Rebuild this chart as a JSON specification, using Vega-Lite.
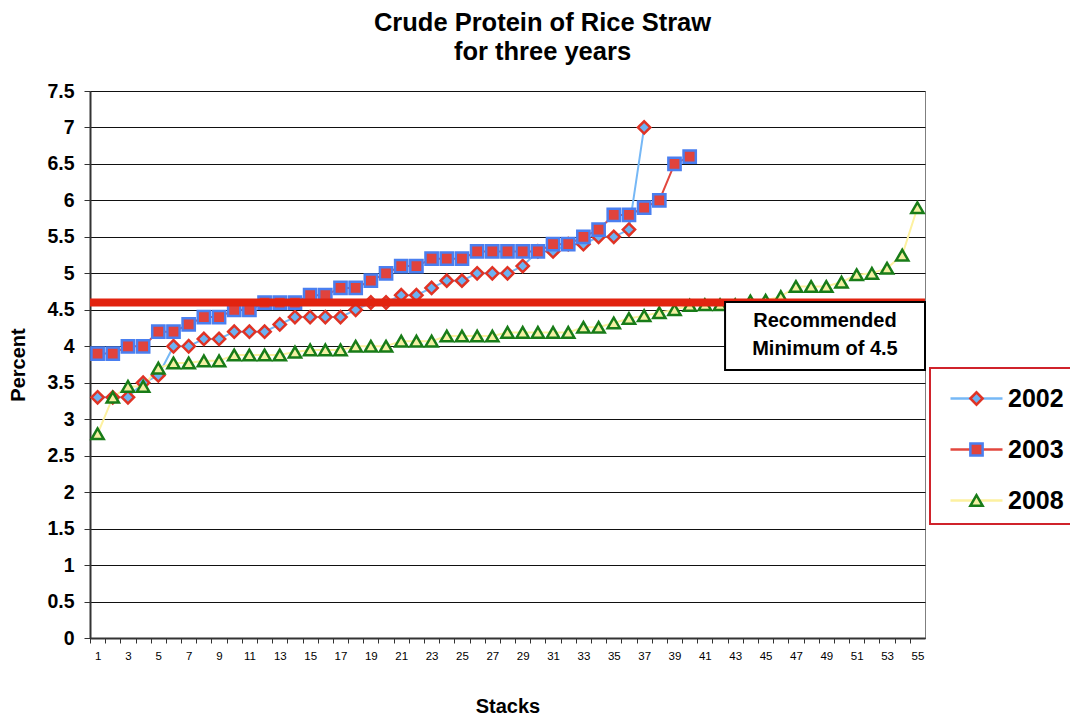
{
  "$schema": "https://vega.github.io/schema/vega-lite/v6.json",
  "width": 835,
  "height": 547,
  "autosize": {"type": "none"},
  "padding": {"left": 90, "top": 91, "right": 145, "bottom": 81},
  "background": "white",
  "config": {
    "font": "Liberation Sans",
    "view": {"stroke": "#7f7f7f", "strokeWidth": 1},
    "legend": {"strokeWidth": 2}
  },
  "title": {
    "text": ["Crude Protein of Rice Straw", "for three years"],
    "font": "Liberation Sans",
    "fontSize": 25.5,
    "fontWeight": "bold",
    "color": "#000",
    "lineHeight": 29,
    "anchor": "middle",
    "dx": 35,
    "offset": 16
  },
  "datasets": {
    "series": [
      {"s": 1, "year": "2002", "v": 3.3}, {"s": 2, "year": "2002", "v": 3.3}, {"s": 3, "year": "2002", "v": 3.3}, {"s": 4, "year": "2002", "v": 3.5}, {"s": 5, "year": "2002", "v": 3.6},
      {"s": 6, "year": "2002", "v": 4.0}, {"s": 7, "year": "2002", "v": 4.0}, {"s": 8, "year": "2002", "v": 4.1}, {"s": 9, "year": "2002", "v": 4.1}, {"s": 10, "year": "2002", "v": 4.2},
      {"s": 11, "year": "2002", "v": 4.2}, {"s": 12, "year": "2002", "v": 4.2}, {"s": 13, "year": "2002", "v": 4.3}, {"s": 14, "year": "2002", "v": 4.4}, {"s": 15, "year": "2002", "v": 4.4},
      {"s": 16, "year": "2002", "v": 4.4}, {"s": 17, "year": "2002", "v": 4.4}, {"s": 18, "year": "2002", "v": 4.5}, {"s": 19, "year": "2002", "v": 4.6}, {"s": 20, "year": "2002", "v": 4.6},
      {"s": 21, "year": "2002", "v": 4.7}, {"s": 22, "year": "2002", "v": 4.7}, {"s": 23, "year": "2002", "v": 4.8}, {"s": 24, "year": "2002", "v": 4.9}, {"s": 25, "year": "2002", "v": 4.9},
      {"s": 26, "year": "2002", "v": 5.0}, {"s": 27, "year": "2002", "v": 5.0}, {"s": 28, "year": "2002", "v": 5.0}, {"s": 29, "year": "2002", "v": 5.1}, {"s": 30, "year": "2002", "v": 5.3},
      {"s": 31, "year": "2002", "v": 5.3}, {"s": 32, "year": "2002", "v": 5.4}, {"s": 33, "year": "2002", "v": 5.4}, {"s": 34, "year": "2002", "v": 5.5}, {"s": 35, "year": "2002", "v": 5.5},
      {"s": 36, "year": "2002", "v": 5.6}, {"s": 37, "year": "2002", "v": 7.0},
      {"s": 1, "year": "2003", "v": 3.9}, {"s": 2, "year": "2003", "v": 3.9}, {"s": 3, "year": "2003", "v": 4.0}, {"s": 4, "year": "2003", "v": 4.0}, {"s": 5, "year": "2003", "v": 4.2},
      {"s": 6, "year": "2003", "v": 4.2}, {"s": 7, "year": "2003", "v": 4.3}, {"s": 8, "year": "2003", "v": 4.4}, {"s": 9, "year": "2003", "v": 4.4}, {"s": 10, "year": "2003", "v": 4.5},
      {"s": 11, "year": "2003", "v": 4.5}, {"s": 12, "year": "2003", "v": 4.6}, {"s": 13, "year": "2003", "v": 4.6}, {"s": 14, "year": "2003", "v": 4.6}, {"s": 15, "year": "2003", "v": 4.7},
      {"s": 16, "year": "2003", "v": 4.7}, {"s": 17, "year": "2003", "v": 4.8}, {"s": 18, "year": "2003", "v": 4.8}, {"s": 19, "year": "2003", "v": 4.9}, {"s": 20, "year": "2003", "v": 5.0},
      {"s": 21, "year": "2003", "v": 5.1}, {"s": 22, "year": "2003", "v": 5.1}, {"s": 23, "year": "2003", "v": 5.2}, {"s": 24, "year": "2003", "v": 5.2}, {"s": 25, "year": "2003", "v": 5.2},
      {"s": 26, "year": "2003", "v": 5.3}, {"s": 27, "year": "2003", "v": 5.3}, {"s": 28, "year": "2003", "v": 5.3}, {"s": 29, "year": "2003", "v": 5.3}, {"s": 30, "year": "2003", "v": 5.3},
      {"s": 31, "year": "2003", "v": 5.4}, {"s": 32, "year": "2003", "v": 5.4}, {"s": 33, "year": "2003", "v": 5.5}, {"s": 34, "year": "2003", "v": 5.6}, {"s": 35, "year": "2003", "v": 5.8},
      {"s": 36, "year": "2003", "v": 5.8}, {"s": 37, "year": "2003", "v": 5.9}, {"s": 38, "year": "2003", "v": 6.0}, {"s": 39, "year": "2003", "v": 6.5}, {"s": 40, "year": "2003", "v": 6.6},
      {"s": 1, "year": "2008", "v": 2.8}, {"s": 2, "year": "2008", "v": 3.3}, {"s": 3, "year": "2008", "v": 3.45}, {"s": 4, "year": "2008", "v": 3.45}, {"s": 5, "year": "2008", "v": 3.7},
      {"s": 6, "year": "2008", "v": 3.77}, {"s": 7, "year": "2008", "v": 3.77}, {"s": 8, "year": "2008", "v": 3.8}, {"s": 9, "year": "2008", "v": 3.8}, {"s": 10, "year": "2008", "v": 3.88},
      {"s": 11, "year": "2008", "v": 3.88}, {"s": 12, "year": "2008", "v": 3.88}, {"s": 13, "year": "2008", "v": 3.88}, {"s": 14, "year": "2008", "v": 3.92}, {"s": 15, "year": "2008", "v": 3.95},
      {"s": 16, "year": "2008", "v": 3.95}, {"s": 17, "year": "2008", "v": 3.95}, {"s": 18, "year": "2008", "v": 4.0}, {"s": 19, "year": "2008", "v": 4.0}, {"s": 20, "year": "2008", "v": 4.0},
      {"s": 21, "year": "2008", "v": 4.07}, {"s": 22, "year": "2008", "v": 4.07}, {"s": 23, "year": "2008", "v": 4.07}, {"s": 24, "year": "2008", "v": 4.14}, {"s": 25, "year": "2008", "v": 4.14},
      {"s": 26, "year": "2008", "v": 4.14}, {"s": 27, "year": "2008", "v": 4.14}, {"s": 28, "year": "2008", "v": 4.19}, {"s": 29, "year": "2008", "v": 4.19}, {"s": 30, "year": "2008", "v": 4.19},
      {"s": 31, "year": "2008", "v": 4.19}, {"s": 32, "year": "2008", "v": 4.19}, {"s": 33, "year": "2008", "v": 4.26}, {"s": 34, "year": "2008", "v": 4.26}, {"s": 35, "year": "2008", "v": 4.32},
      {"s": 36, "year": "2008", "v": 4.38}, {"s": 37, "year": "2008", "v": 4.42}, {"s": 38, "year": "2008", "v": 4.46}, {"s": 39, "year": "2008", "v": 4.5}, {"s": 40, "year": "2008", "v": 4.56},
      {"s": 41, "year": "2008", "v": 4.57}, {"s": 42, "year": "2008", "v": 4.57}, {"s": 43, "year": "2008", "v": 4.57}, {"s": 44, "year": "2008", "v": 4.62}, {"s": 45, "year": "2008", "v": 4.63},
      {"s": 46, "year": "2008", "v": 4.68}, {"s": 47, "year": "2008", "v": 4.82}, {"s": 48, "year": "2008", "v": 4.82}, {"s": 49, "year": "2008", "v": 4.82}, {"s": 50, "year": "2008", "v": 4.88},
      {"s": 51, "year": "2008", "v": 4.98}, {"s": 52, "year": "2008", "v": 5.0}, {"s": 53, "year": "2008", "v": 5.07}, {"s": 54, "year": "2008", "v": 5.25}, {"s": 55, "year": "2008", "v": 5.9}
    ]
  },
  "encoding": {
    "x": {
      "field": "s", "type": "quantitative",
      "scale": {"domain": [0.5, 55.5], "nice": false, "zero": false},
      "axis": {
        "values": [1,2,3,4,5,6,7,8,9,10,11,12,13,14,15,16,17,18,19,20,21,22,23,24,25,26,27,28,29,30,31,32,33,34,35,36,37,38,39,40,41,42,43,44,45,46,47,48,49,50,51,52,53,54,55],
        "tickOffset": -7.59,
        "labelOffset": 7.59,
        "labelExpr": "datum.value % 2 == 1 ? datum.label : ''",
        "labelOverlap": false,
        "labelFlush": false,
        "grid": false,
        "labelFont": "Liberation Sans",
        "labelFontSize": 11.5,
        "labelColor": "#000",
        "labelPadding": 7,
        "tickSize": 5,
        "tickColor": "#333",
        "domainColor": "#333",
        "domainWidth": 2,
        "title": "Stacks",
        "titleFont": "Liberation Sans",
        "titleFontSize": 20,
        "titleFontWeight": "bold",
        "titleColor": "#000",
        "titlePadding": 35
      }
    },
    "y": {
      "field": "v", "type": "quantitative",
      "scale": {"domain": [0, 7.5], "nice": false, "zero": true},
      "axis": {
        "values": [0,0.5,1,1.5,2,2.5,3,3.5,4,4.5,5,5.5,6,6.5,7,7.5],
        "format": "~g",
        "grid": true,
        "gridColor": "#111",
        "gridWidth": 1,
        "labelFont": "Liberation Sans",
        "labelFontSize": 19.5,
        "labelFontWeight": "bold",
        "labelColor": "#000",
        "labelPadding": 10,
        "tickSize": 6,
        "tickColor": "#333",
        "domainColor": "#333",
        "domainWidth": 2,
        "title": "Percent",
        "titleFont": "Liberation Sans",
        "titleFontSize": 20,
        "titleFontWeight": "bold",
        "titleColor": "#000",
        "titlePadding": 18
      }
    }
  },
  "layer": [
    {
      "data": {"name": "series"},
      "mark": {"type": "line", "strokeWidth": 2},
      "encoding": {
        "color": {
          "field": "year", "type": "nominal",
          "scale": {"domain": ["2002", "2003", "2008"], "range": ["#76b8f6", "#e2473e", "#fdf1a0"]},
          "legend": {
            "title": " ",
            "titleFontSize": 6,
            "titlePadding": 2,
            "orient": "none",
            "legendX": 840,
            "legendY": 277,
            "symbolType": "M-4,0H4",
            "symbolSize": 169,
            "symbolStrokeWidth": 2.5,
            "symbolOffset": 24,
            "labelFont": "Liberation Sans",
            "labelFontSize": 25,
            "labelFontWeight": "bold",
            "labelColor": "#000",
            "labelOffset": 19,
            "labelLimit": 0,
            "rowPadding": 25,
            "padding": 10,
            "strokeColor": "#d0232b",
            "zindex": 0
          }
        }
      }
    },
    {
      "data": {"name": "series"},
      "mark": {"type": "point", "filled": true, "size": 150, "strokeWidth": 2.5, "opacity": 1},
      "encoding": {
        "shape": {
          "field": "year", "type": "nominal",
          "scale": {"range": ["diamond", "square", "triangle-up"]},
          "legend": {"title": " ", "titleFontSize": 6, "titlePadding": 2, "orient": "none", "legendX": 864, "legendY": 277, "symbolSize": 150, "symbolStrokeWidth": 2.5, "labelFont": "Liberation Sans", "labelFontSize": 25, "labelFontWeight": "bold", "labelExpr": "' '", "labelOpacity": 0, "labelOffset": 6, "labelLimit": 0, "rowPadding": 25, "padding": 10, "zindex": 1}
        },
        "fill": {
          "field": "year", "type": "nominal",
          "scale": {"range": ["#6cb2f2", "#e0433d", "#f4f0a2"]},
          "legend": {"title": " ", "titleFontSize": 6, "titlePadding": 2, "orient": "none", "legendX": 864, "legendY": 277, "symbolSize": 150, "symbolStrokeWidth": 2.5, "labelFont": "Liberation Sans", "labelFontSize": 25, "labelFontWeight": "bold", "labelExpr": "' '", "labelOpacity": 0, "labelOffset": 6, "labelLimit": 0, "rowPadding": 25, "padding": 10, "zindex": 1}
        },
        "stroke": {
          "field": "year", "type": "nominal",
          "scale": {"range": ["#e03325", "#4a7ff0", "#187c18"]},
          "legend": {"title": " ", "titleFontSize": 6, "titlePadding": 2, "orient": "none", "legendX": 864, "legendY": 277, "symbolSize": 150, "symbolStrokeWidth": 2.5, "labelFont": "Liberation Sans", "labelFontSize": 25, "labelFontWeight": "bold", "labelExpr": "' '", "labelOpacity": 0, "labelOffset": 6, "labelLimit": 0, "rowPadding": 25, "padding": 10, "zindex": 1}
        }
      }
    },
    {
      "data": {"values": [{"s": 0.5, "s2": 55.5, "v": 4.6}]},
      "mark": {"type": "rule", "color": "#e2230f", "strokeWidth": 8},
      "encoding": {"x2": {"field": "s2"}}
    },
    {
      "data": {"values": [{"s": 42.33, "s2": 55.5, "v": 4.607, "v2": 3.675}]},
      "mark": {"type": "rect", "fill": "white", "stroke": "black", "strokeWidth": 2},
      "encoding": {
        "x2": {"field": "s2"},
        "y2": {"field": "v2"}
      }
    },
    {
      "data": {"values": [{"s": 48.91, "v": 4.347, "label": "Recommended\nMinimum of 4.5"}]},
      "mark": {"type": "text", "font": "Liberation Sans", "fontSize": 20, "fontWeight": "bold", "color": "#000", "lineBreak": "\n", "lineHeight": 28, "align": "center", "baseline": "middle"},
      "encoding": {
        "text": {"field": "label", "type": "nominal"}
      }
    }
  ]
}
